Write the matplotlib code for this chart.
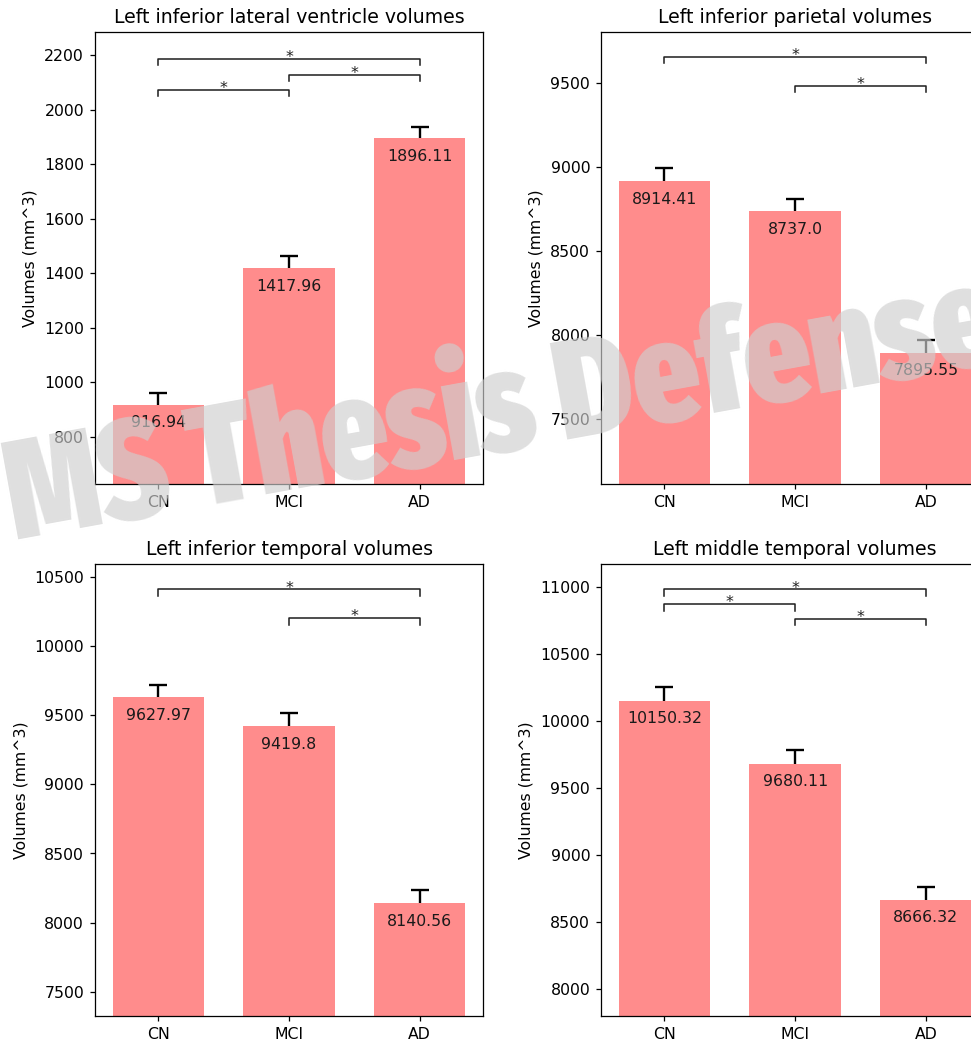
import matplotlib
matplotlib.use("Agg")
import matplotlib.pyplot as plt
import matplotlib.font_manager as fm
from matplotlib.transforms import blended_transform_factory

# ---------------- data ----------------
groups = ["CN", "MCI", "AD"]

titles = [
    "Left inferior lateral ventricle volumes",
    "Left inferior parietal volumes",
    "Left inferior temporal volumes",
    "Left middle temporal volumes",
]

lat_vent_mean = [916.94, 1417.96, 1896.11]
lat_vent_err = [42, 45, 40]

inf_par_mean = [8914.41, 8737.0, 7895.55]
inf_par_err = [80, 72, 75]

inf_temp_mean = [9627.97, 9419.8, 8140.56]
inf_temp_err = [91, 92, 98]

mid_temp_mean = [10150.32, 9680.11, 8666.32]
mid_temp_err = [99, 98, 95]

# significant pairs (group index i, group index j)
lat_vent_sig = [(0, 2), (1, 2), (0, 1)]
inf_par_sig = [(0, 2), (1, 2)]
inf_temp_sig = [(0, 2), (1, 2)]
mid_temp_sig = [(0, 2), (0, 1), (1, 2)]

means = [lat_vent_mean, inf_par_mean, inf_temp_mean, mid_temp_mean]
errs = [lat_vent_err, inf_par_err, inf_temp_err, mid_temp_err]
sigs = [lat_vent_sig, inf_par_sig, inf_temp_sig, mid_temp_sig]

watermark = "MS Thesis Defense"

# ---------------- layout / style ----------------
DPI = 113
W, H = 971, 1041
fig = plt.figure(figsize=((W + 0.2) / DPI, (H + 0.2) / DPI), dpi=DPI)

ax_w = 388 / W
ax_h = 452 / H
lefts = [95 / W, 601 / W, 95 / W, 601 / W]
bottoms = [1 - 484 / H, 1 - 484 / H, 1 - 1016 / H, 1 - 1016 / H]
ylims = [(626, 2286), (7113, 9806), (7325, 10592), (7799, 11169)]
bracket_levels = [
    [0.940, 0.905, 0.872],
    [0.945, 0.881],
    [0.944, 0.880],
    [0.944, 0.911, 0.879],
]
drop = 0.0145
bar_color = "#ff8c8c"

for k in range(4):
    ax = fig.add_axes([lefts[k], bottoms[k], ax_w, ax_h])
    x = list(range(len(groups)))
    ax.errorbar(x, means[k], yerr=errs[k], fmt="none", ecolor="black",
                elinewidth=1.5, capsize=5.5, capthick=1.5, zorder=1)
    ax.bar(x, means[k], width=0.7, color=bar_color, zorder=2)
    ax.set_xticks(x)
    ax.set_xticklabels(groups)
    ax.set_ylim(*ylims[k])
    ax.set_ylabel("Volumes (mm^3)")
    ax.set_title(titles[k])
    for xi, v in zip(x, means[k]):
        ax.annotate(str(v), xy=(xi, v), xytext=(0, -11.5),
                    textcoords="offset points", ha="center", va="center",
                    fontsize=10, color="#1a1a1a", zorder=3)
    trans = blended_transform_factory(ax.transData, ax.transAxes)
    for (i, j), lvl in zip(sigs[k], bracket_levels[k]):
        ax.plot([i, i, j, j], [lvl - drop, lvl, lvl, lvl - drop],
                color="#222222", lw=1.0, transform=trans, clip_on=False)
        ax.annotate("*", xy=((i + j) / 2, lvl), xycoords=trans,
                    xytext=(0, -2), textcoords="offset points",
                    ha="center", va="baseline", fontsize=10, color="#222222")


# ---------------- watermark font: pick the narrowest heavy face available ----
def _weight(f):
    w = f.weight
    if isinstance(w, str):
        w = fm.weight_dict.get(w, 400)
    return w


def pick_font():
    best = None
    best_score = -1
    for f in fm.fontManager.ttflist:
        name = (f.fname + " " + f.name).lower()
        compact = name.replace(" ", "").replace("-", "")
        if "italic" in name or "oblique" in name:
            continue
        if "extracondensed" in compact:
            score = 40
        elif "semicondensed" in compact:
            score = 10
        elif "condensed" in compact or "narrow" in compact:
            score = 25
        else:
            continue
        score += _weight(f) / 100.0
        if score > best_score:
            best_score = score
            best = f
    return best


wm_font = pick_font()
if wm_font is not None:
    wm_props = fm.FontProperties(fname=wm_font.fname, size=93)
else:
    wm_props = fm.FontProperties(family="DejaVu Sans", weight="bold", size=93)

wm = fig.text(503 / W, 1 - 413 / H, watermark, fontproperties=wm_props,
              color=(0.81, 0.81, 0.81), alpha=0.66, rotation=0,
              rotation_mode="anchor", ha="center", va="center", zorder=10)
# fit the watermark to the length it has in the reference
fig.canvas.draw()
bb = wm.get_window_extent(fig.canvas.get_renderer())
target_len = 1008.0
wm.set_fontsize(93 * target_len / bb.width)
wm.set_rotation(10.3)

fig.savefig("out.png", dpi=DPI)
